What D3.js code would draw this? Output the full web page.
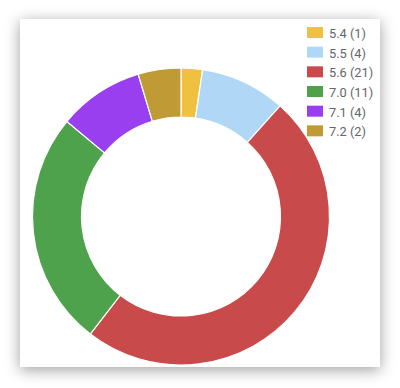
<!DOCTYPE html>
<html><head><meta charset="utf-8">
<script src="https://cdn.jsdelivr.net/npm/d3@7"></script>
<style>
html,body{margin:0;padding:0;background:#fff;width:400px;height:388px;overflow:hidden;}
#card{position:absolute;left:20px;top:19px;width:360px;height:348px;background:#fff;
box-shadow:0 3px 14px rgba(0,0,0,0.38);}
svg{position:absolute;left:0;top:0;}
</style></head><body>
<div id="card"></div>
<svg id="chart" width="400" height="388"></svg>
<script>
const categories = ["5.4", "5.5", "5.6", "7.0", "7.1", "7.2"];
const counts = [1, 4, 21, 11, 4, 2];
const colors = ["#efc13f", "#b0d7f6", "#c84a4a", "#4ea24c", "#9a3ff0", "#c09b35"];

const svg = d3.select("#chart");
const cx = 181, cy = 216.5, rOuter = 148.5, rInner = 99.5;
const data = categories.map((c, i) => ({cat: c, value: counts[i], color: colors[i]}));
const pie = d3.pie().value(d => d.value).sort(null);
const arc = d3.arc().innerRadius(rInner).outerRadius(rOuter);
const g = svg.append("g").attr("transform", `translate(${cx},${cy})`);
g.selectAll("path").data(pie(data)).join("path")
  .attr("d", arc).attr("fill", d => d.data.color)
  .attr("stroke", "#fff").attr("stroke-width", 1.2);

const y = d3.scaleBand().domain(categories).range([27, 145]).padding(0);
const leg = svg.append("g");
const rows = leg.selectAll("g").data(data).join("g")
  .attr("transform", d => `translate(307,${y(d.cat)})`);
rows.append("rect").attr("x", 0).attr("y", 0).attr("width", 16).attr("height", 11)
  .attr("fill", d => d.color);
rows.append("text").attr("x", 22).attr("y", 11)
  .attr("font-family", "Roboto, sans-serif").attr("font-size", 12.8)
  .attr("fill", "#666").text(d => `${d.cat} (${d.value})`);
</script>
</body></html>
